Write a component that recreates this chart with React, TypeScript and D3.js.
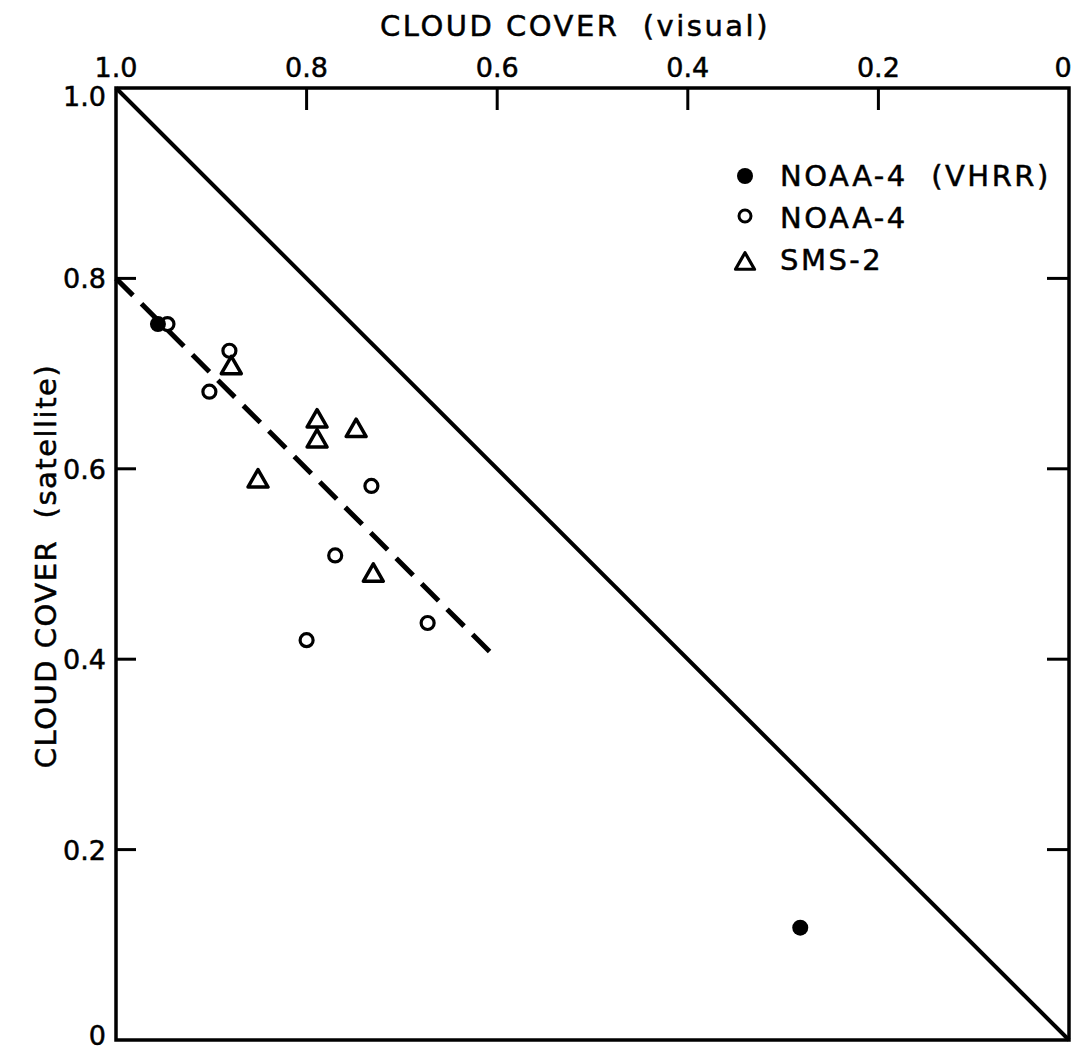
import React from "react";
import * as d3 from "d3";

// values
const xTicks = [1.0, 0.8, 0.6, 0.4, 0.2, 0];
const yTicks = [1.0, 0.8, 0.6, 0.4, 0.2, 0];
const tickLabels = ["1.0", "0.8", "0.6", "0.4", "0.2", "0"];

const vhrrX = [0.956, 0.282];
const vhrrY = [0.752, 0.118];

const noaaX = [0.946, 0.881, 0.902, 0.732, 0.77, 0.8, 0.673];
const noaaY = [0.752, 0.724, 0.681, 0.582, 0.509, 0.42, 0.438];

const smsX = [0.879, 0.789, 0.789, 0.748, 0.851, 0.73];
const smsY = [0.709, 0.653, 0.632, 0.643, 0.59, 0.491];

const equalLine: [number, number][] = [[1, 1], [0, 0]];
const fitLine: [number, number][] = [[1.0, 0.8], [0.6, 0.4]];

const legendNames = ["NOAA-4  (VHRR)", "NOAA-4", "SMS-2"];

const W = 1075, H = 1051;
const margin = { top: 88, right: 6, bottom: 11, left: 116 };
const font = "'DejaVu Sans', sans-serif";

function tri(cx: number, cy: number, s: number) {
  const h = s * 0.87;
  return `M${cx},${cy - h / 2}L${cx + s / 2},${cy + h / 2}L${cx - s / 2},${cy + h / 2}Z`;
}

export default function App() {
  const x = d3.scaleLinear().domain([1, 0]).range([margin.left, W - margin.right]);
  const y = d3.scaleLinear().domain([0, 1]).range([H - margin.bottom, margin.top]);
  const line = d3.line<[number, number]>().x(d => x(d[0])).y(d => y(d[1]));
  const tl = 22;
  const txt = { fontFamily: font, fill: "#000", stroke: "#000", strokeWidth: 0.5 };

  return (
    <svg width={W} height={H} style={{ position: "absolute", left: 0, top: 0, background: "#fff" }}>
      {/* frame */}
      <rect x={x(1)} y={y(1)} width={x(0) - x(1)} height={y(0) - y(1)} fill="none" stroke="#000" strokeWidth={3.5} />

      {/* ticks: top, left, right */}
      {xTicks.slice(1, 5).map((t, i) => (
        <line key={"tx" + i} x1={x(t)} x2={x(t)} y1={y(1)} y2={y(1) + tl} stroke="#000" strokeWidth={3} />
      ))}
      {yTicks.slice(1, 5).map((t, i) => (
        <g key={"ty" + i}>
          <line x1={x(1)} x2={x(1) + tl - 2} y1={y(t)} y2={y(t)} stroke="#000" strokeWidth={3} />
          <line x1={x(0)} x2={x(0) - tl} y1={y(t)} y2={y(t)} stroke="#000" strokeWidth={3} />
        </g>
      ))}

      {/* tick labels */}
      {xTicks.map((t, i) => (
        <text key={"lx" + i} x={t === 0 ? x(t) - 6 : x(t)} y={77} textAnchor="middle" fontSize={27} {...txt}>
          {tickLabels[i]}
        </text>
      ))}
      {yTicks.map((t, i) => (
        <text key={"ly" + i} x={106} y={i === 0 ? y(t) + 18 : t === 0 ? y(t) + 5 : y(t) + 10} textAnchor="end" fontSize={27} {...txt}>
          {tickLabels[i]}
        </text>
      ))}

      {/* axis titles */}
      <text x={575} y={36} textAnchor="middle" fontSize={29} letterSpacing={2.5} style={{ whiteSpace: "pre" }} {...txt}>
        CLOUD COVER  (visual)
      </text>
      <text transform={`translate(56,${(y(0) + y(1)) / 2 + 2}) rotate(-90)`} textAnchor="middle" fontSize={29} letterSpacing={1.5} style={{ whiteSpace: "pre" }} {...txt}>
        CLOUD COVER  (satellite)
      </text>

      {/* lines */}
      <path d={line(equalLine) || ""} fill="none" stroke="#000" strokeWidth={4} />
      <path d={line(fitLine) || ""} fill="none" stroke="#000" strokeWidth={5} strokeDasharray="24,12" />

      {/* points */}
      {noaaX.map((v, i) => (
        <circle key={"n" + i} cx={x(v)} cy={y(noaaY[i])} r={6.5} fill="#fff" stroke="#000" strokeWidth={3.2} />
      ))}
      {vhrrX.map((v, i) => (
        <circle key={"v" + i} cx={x(v)} cy={y(vhrrY[i])} r={8} fill="#000" />
      ))}
      {smsX.map((v, i) => (
        <path key={"s" + i} d={tri(x(v), y(smsY[i]), 20)} fill="none" stroke="#000" strokeWidth={3.5} strokeLinejoin="round" />
      ))}

      {/* legend */}
      <g>
        <circle cx={745} cy={176} r={8} fill="#000" />
        <circle cx={745} cy={216} r={6} fill="#fff" stroke="#000" strokeWidth={3} />
        <path d={tri(745, 261, 19)} fill="none" stroke="#000" strokeWidth={3.2} strokeLinejoin="round" />
        {legendNames.map((n, i) => (
          <text key={"lg" + i} x={780} y={186 + i * 42} fontSize={29} letterSpacing={2.5} style={{ whiteSpace: "pre" }} {...txt}>
            {n}
          </text>
        ))}
      </g>
    </svg>
  );
}
